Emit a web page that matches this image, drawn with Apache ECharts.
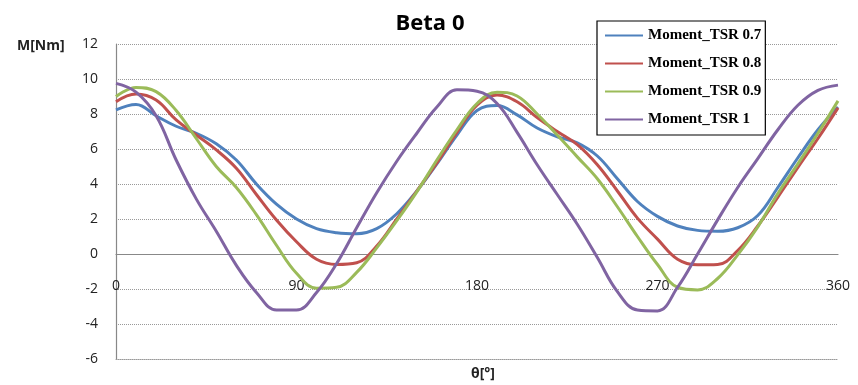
<!DOCTYPE html>
<html>
<head>
<meta charset="utf-8">
<script src="https://cdn.jsdelivr.net/npm/echarts@6/dist/echarts.min.js"></script>
<style>
html,body{margin:0;padding:0;background:#fff;}
#chart{width:858px;height:385px;}
</style>
</head>
<body>
<div id="chart"></div>
<script>
// theta (degrees)
const angles = [0,10,20,30,40,50,60,70,80,90,100,110,120,130,140,150,160,170,180,190,200,210,220,230,240,250,260,270,280,290,300,310,320,330,340,350,360];
const seriesNames = ['Moment_TSR 0.7','Moment_TSR 0.8','Moment_TSR 0.9','Moment_TSR 1'];
const tsr07 = [8.23,8.55,7.9,7.3,6.9,6.3,5.37,4.0,2.85,2.0,1.45,1.22,1.16,1.45,2.3,3.6,5.15,6.8,8.2,8.48,7.95,7.2,6.7,6.35,5.6,4.3,3.0,2.15,1.6,1.35,1.3,1.5,2.2,3.8,5.5,7.1,8.4];
const tsr08 = [8.7,9.14,8.8,7.66,6.8,5.95,4.9,3.4,1.94,0.7,-0.3,-0.6,-0.5,0.45,2.0,3.6,5.2,6.95,8.5,9.08,8.7,7.8,7.0,6.25,5.1,3.6,2.05,0.85,-0.3,-0.62,-0.6,0.2,1.6,3.25,4.95,6.6,8.35];
const tsr09 = [9.0,9.52,9.28,8.2,6.6,5.0,3.8,2.25,0.5,-1.1,-1.95,-1.9,-1.05,0.35,1.9,3.55,5.37,7.1,8.6,9.25,9.03,8.0,6.8,5.55,4.3,2.7,1.0,-0.6,-1.9,-2.05,-1.4,-0.05,1.55,3.45,5.15,6.9,8.75];
const tsr10 = [9.75,9.25,7.9,5.37,3.15,1.3,-0.65,-2.2,-3.2,-3.2,-2.2,-0.55,1.5,3.5,5.3,6.9,8.4,9.38,9.3,8.6,6.95,5.1,3.4,1.7,-0.2,-2.15,-3.2,-3.25,-1.9,0.0,1.95,3.8,5.45,7.1,8.5,9.35,9.65];
const colors = ['#4F81BD','#C0504D','#9BBB59','#8064A2'];

const allValues = [tsr07,tsr08,tsr09,tsr10];
const chart = echarts.init(document.getElementById('chart'));
chart.setOption({
  animation:false,
  backgroundColor:'#fff',
  title:[
    {text:'Beta 0',left:425,top:8,textAlign:'center',textStyle:{fontFamily:'Open Sans',fontSize:22,fontWeight:'bold',color:'#000'}},
    {text:'M[Nm]',left:12,top:34,textStyle:{fontFamily:'Open Sans',fontSize:14,fontWeight:'bold',color:'#222'}},
    {text:'θ[°]',left:478,top:362,textAlign:'center',textStyle:{fontFamily:'Open Sans',fontSize:14,fontWeight:'bold',color:'#222'}}
  ],
  legend:{
    orient:'vertical',left:597,top:21,
    padding:[6,4,7,8],
    icon:'rect',
    itemWidth:38,itemHeight:2,itemGap:11,
    borderColor:'#000',borderWidth:1.2,
    backgroundColor:'#fff',
    data:seriesNames,
    textStyle:{fontFamily:'Liberation Serif',fontWeight:'bold',fontSize:15,color:'#000',lineHeight:17}
  },
  grid:{left:116,right:20,top:44,bottom:26,containLabel:false,outerBoundsMode:'none'},
  xAxis:[{
    type:'value',min:0,max:360,interval:90,position:'bottom',offset:-105,
    axisLine:{onZero:false,lineStyle:{color:'#888',width:1.2}},
    axisTick:{show:false},
    axisLabel:{margin:25,fontFamily:'Open Sans',fontSize:14,color:'#222'},
    splitLine:{show:false}
  },{
    type:'value',min:0,max:360,position:'bottom',
    axisLine:{show:true,onZero:false,lineStyle:{type:'dotted',color:'#999',width:1}},
    axisTick:{show:false},axisLabel:{show:false},splitLine:{show:false}
  }],
  yAxis:{
    type:'value',min:-6,max:12,interval:2,
    axisLine:{show:true,onZero:false,lineStyle:{color:'#888',width:1.2}},
    axisTick:{show:false},
    axisLabel:{margin:18,fontFamily:'Open Sans',fontSize:14,color:'#222'},
    splitLine:{show:true,lineStyle:{type:'dotted',color:'#999',width:1}}
  },
  series:seriesNames.map((n,i)=>({
    name:n,type:'line',smooth:0.4,symbol:'none',xAxisIndex:0,
    lineStyle:{width:3,color:colors[i]},itemStyle:{color:colors[i]},
    data:angles.map((a,j)=>[a,allValues[i][j]])
  }))
});
</script>
</body>
</html>
